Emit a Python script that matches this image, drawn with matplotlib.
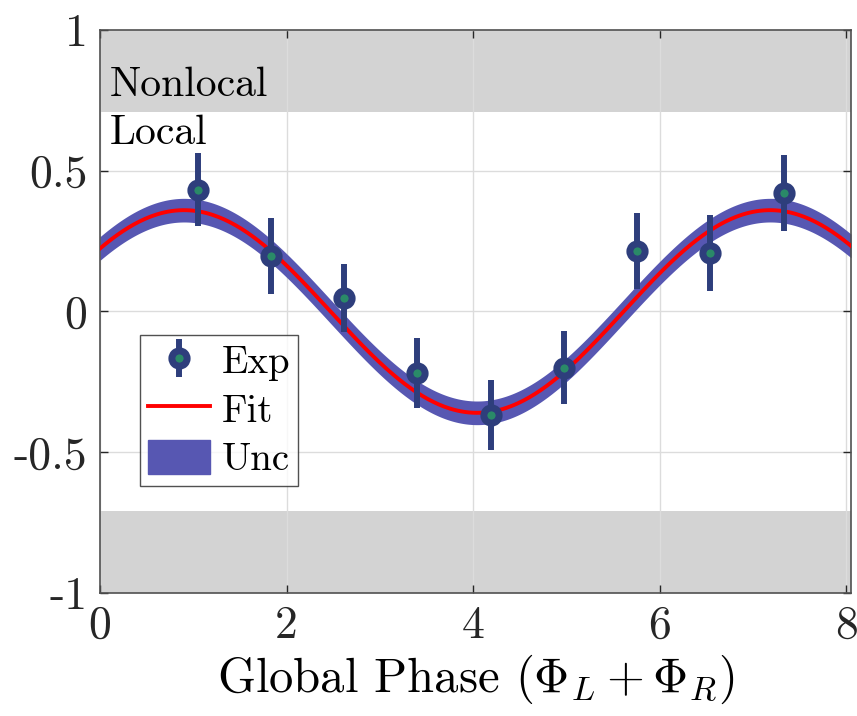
import numpy as np
import matplotlib; matplotlib.use("Agg")
import matplotlib.pyplot as plt
from matplotlib.patches import Patch

plt.rcParams["font.family"] = "serif"
plt.rcParams["font.serif"] = ["cmr10", "DejaVu Serif"]
plt.rcParams["mathtext.fontset"] = "cm"
plt.rcParams["axes.unicode_minus"] = False

# data
phase = [1.05, 1.83, 2.62, 3.40, 4.19, 4.97, 5.76, 6.54, 7.33]
corr = [0.432, 0.197, 0.048, -0.218, -0.368, -0.200, 0.215, 0.208, 0.420]
corr_err = [0.13, 0.135, 0.12, 0.125, 0.125, 0.13, 0.135, 0.135, 0.135]
fit_amp = 0.36      # fit amplitude
fit_phi = 0.90      # fit phase offset
fit_unc = 0.042     # half width of uncertainty band
bound = 1/np.sqrt(2)  # local / nonlocal limit
xticks = [0, 2, 4, 6, 8]
yticks = [-1, -0.5, 0, 0.5, 1]
ytick_lab = ["-1", "-0.5", "0", "0.5", "1"]

NAVY = "#2e3e7c"; GREEN = "#2a8a68"; BAND = "#5757b2"; GREY = "#d3d3d3"

fig = plt.figure(figsize=(8.57, 7.16), dpi=100)
ax = fig.add_axes([0.1167, 0.1718, 0.8763, 0.7863])
xlim = (0, 8.05)

ax.axhspan(bound, 1, color=GREY, lw=0, zorder=0.1)
ax.axhspan(-1, -bound, color=GREY, lw=0, zorder=0.1)

xf = np.linspace(xlim[0], xlim[1], 400)
yf = fit_amp*np.cos(xf - fit_phi)
ax.fill_between(xf, yf - fit_unc, yf + fit_unc, color=BAND, lw=0, zorder=2)
fit, = ax.plot(xf, yf, color="red", lw=2.8, zorder=3)
eb = ax.errorbar(phase, corr, yerr=corr_err, fmt="o", color=NAVY, ecolor=NAVY, elinewidth=4.3,
                 ms=11, mew=5, mfc=GREEN, mec=NAVY, capsize=0, zorder=4)

ax.text(0.1, 0.805, "Nonlocal", fontsize=30, va="center", ha="left")
ax.text(0.1, 0.634, "Local", fontsize=30, va="center", ha="left")

ax.set_xlim(*xlim); ax.set_ylim(-1, 1)
ax.set_xticks(xticks); ax.set_xticklabels([str(t) for t in xticks])
ax.set_yticks(yticks); ax.set_yticklabels(ytick_lab)
ax.tick_params(direction="in", length=6, width=1, colors="#262626", labelsize=33,
               top=True, right=True, pad=9)
ax.grid(True, color="#dcdcdc", lw=1)
ax.set_axisbelow(True)
for s in ax.spines.values():
    s.set_color("#505050"); s.set_linewidth(1.2)
ax.set_xlabel(r"Global Phase $(\Phi_L + \Phi_R)$", fontsize=35, labelpad=4)

unc = Patch(facecolor=BAND, edgecolor=BAND)
lg = ax.legend([eb, fit, unc], ["Exp", "Fit", "Unc"], loc="lower left", bbox_to_anchor=(0.053, 0.19),
               fontsize=28, frameon=True, fancybox=False, edgecolor="#262626",
               borderpad=0.2, handlelength=1.6, handleheight=1.0, labelspacing=0.25,
               handletextpad=0.3, borderaxespad=0)
lg.get_frame().set_linewidth(1)
fig.savefig("out.png", dpi=100)
